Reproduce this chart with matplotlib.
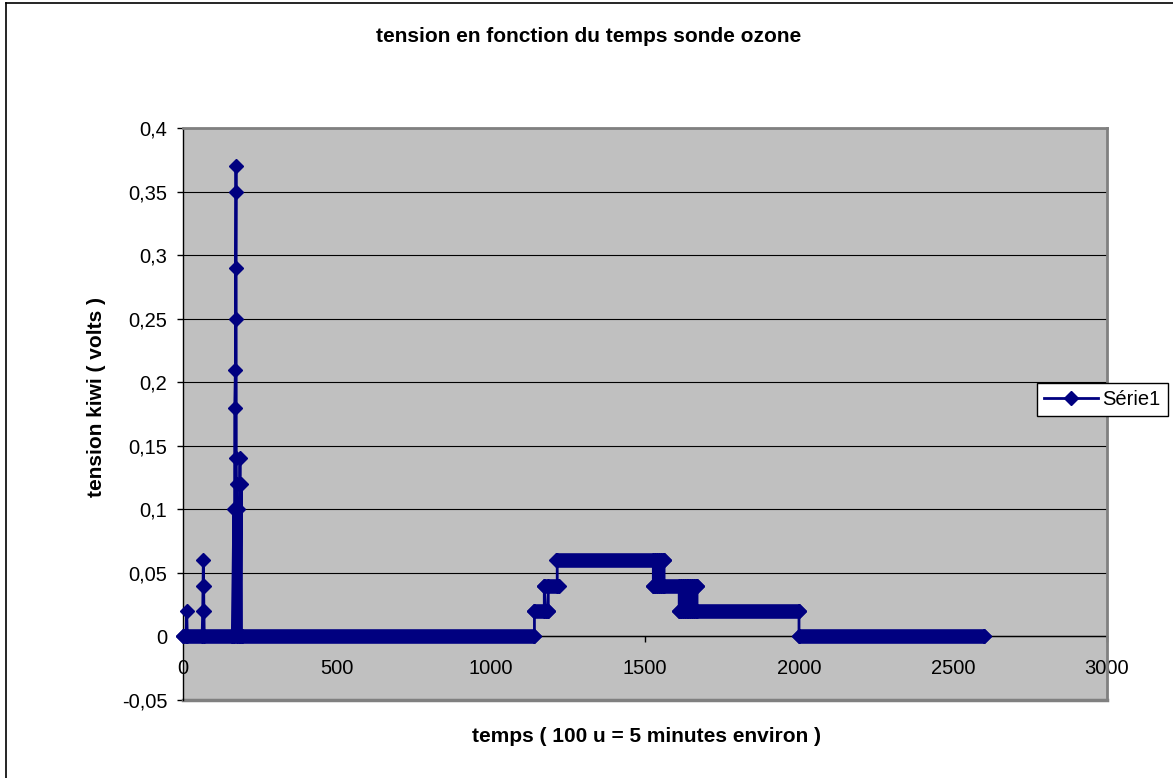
import matplotlib
matplotlib.use('Agg')
import matplotlib.pyplot as plt
from matplotlib.lines import Line2D

plt.rcParams['font.family'] = ['Liberation Sans', 'DejaVu Sans']

NAVY = '#000080'

# flat stretches: many readings at the same level
run_start = [0, 1141, 1173, 1212, 1527, 1611, 2000]
run_end = [1141, 1186, 1222, 1562, 1669, 2000, 2600]
run_level = [0, 0.02, 0.04, 0.06, 0.04, 0.02, 0]

# readings in time order (temps, tension)
# start and the small bumps
t_start = [0, 10, 12, 14, 62, 64, 65, 66, 67, 68, 69]
v_start = [0, 0, 0.02, 0, 0, 0.02, 0.04, 0.06, 0.04, 0.02, 0]
# the big peak
t_peak = [158, 160, 165, 167, 168, 170, 171, 171, 172, 172, 173, 174, 174,
          176, 180, 182, 185, 186, 189, 190, 192]
v_peak = [0, 0, 0.10, 0, 0.18, 0.21, 0.25, 0.29, 0.35, 0.37, 0.14, 0.10, 0.12,
          0, 0.10, 0, 0.14, 0, 0.12, 0, 0]
# rise of the plateau
t_rise = [1141, 1141, 1173, 1173, 1178, 1186, 1186, 1215, 1215]
v_rise = [0, 0.02, 0.02, 0.04, 0.02, 0.02, 0.04, 0.04, 0.06]
# 0.06 <-> 0.04 flicker
t_fall1 = [1527, 1527, 1533, 1533, 1539, 1539, 1545, 1545, 1551, 1551, 1557,
           1557, 1562, 1562]
v_fall1 = [0.06, 0.04, 0.04, 0.06, 0.06, 0.04, 0.04, 0.06, 0.06, 0.04, 0.04,
           0.06, 0.06, 0.04]
# 0.04 <-> 0.02 flicker
t_fall2 = [1611, 1611, 1617, 1617, 1623, 1623, 1629, 1629, 1635, 1635, 1641,
           1641, 1647, 1647, 1653, 1653, 1659, 1659, 1665, 1665, 1669, 1669]
v_fall2 = [0.04, 0.02, 0.02, 0.04, 0.04, 0.02, 0.02, 0.04, 0.04, 0.02, 0.02,
           0.04, 0.04, 0.02, 0.02, 0.04, 0.04, 0.02, 0.02, 0.04, 0.04, 0.02]
# back to zero
t_end = [2000, 2000, 2600]
v_end = [0.02, 0, 0]

temps = t_start + t_peak + t_rise + t_fall1 + t_fall2 + t_end
tension = v_start + v_peak + v_rise + v_fall1 + v_fall2 + v_end

yticks = [-0.05, 0, 0.05, 0.1, 0.15, 0.2, 0.25, 0.3, 0.35, 0.4]
xticks = [0, 500, 1000, 1500, 2000, 2500, 3000]

W, H = 1173, 778
fig = plt.figure(figsize=(W / 100, H / 100), dpi=100)
ax = fig.add_axes([183 / W, 1 - 700 / H, (1107 - 183) / W, (700 - 128) / H])
ax.set_facecolor('#C0C0C0')

# dense stretches drawn as a thick band, as wide as a marker
for s, e, lev in zip(run_start, run_end, run_level):
    ax.plot([s, e], [lev, lev], color=NAVY, lw=10.5, solid_capstyle='butt',
            zorder=3, clip_on=False)
ax.plot(run_start + run_end, run_level + run_level, 'D', color=NAVY, ms=7,
        zorder=4, clip_on=False)
ax.plot(temps, tension, color=NAVY, lw=2, marker='D', ms=7, zorder=4,
        clip_on=False)

ax.set_xlim(0, 3000)
ax.set_ylim(-0.05, 0.4)
ax.set_xticks(xticks)
ax.set_yticks(yticks)
ax.set_xticklabels([str(v) for v in xticks])
ax.set_yticklabels([('%g' % v).replace('.', ',') for v in yticks])
ax.tick_params(axis='y', direction='out', length=4.3, width=1, pad=7,
               labelsize=14.5, colors='black')
ax.tick_params(axis='x', direction='out', length=4.3, width=1, pad=12,
               labelsize=14.5, colors='black')

ax.yaxis.grid(True, color='black', lw=0.8)
ax.set_axisbelow(True)

ax.spines['bottom'].set_position(('data', 0))
ax.spines['bottom'].set_color('black')
ax.spines['bottom'].set_linewidth(1)
ax.spines['bottom'].set_zorder(2)
ax.spines['left'].set_color('black')
ax.spines['left'].set_linewidth(1)
for side in ['top', 'right']:
    ax.spines[side].set_color('#808080')
    ax.spines[side].set_linewidth(2)
ax.axhline(-0.05, color='#808080', lw=2.5, clip_on=False, zorder=1)

fig.text(589 / W, 1 - 37 / H, 'tension en fonction du temps sonde ozone',
         ha='center', va='center', fontsize=15, fontweight='bold')
fig.text(647 / W, 1 - 737 / H, 'temps ( 100 u = 5 minutes environ )',
         ha='center', va='center', fontsize=15, fontweight='bold')
fig.text(97 / W, 1 - 397 / H, 'tension kiwi ( volts )', rotation=90,
         ha='center', va='center', fontsize=15, fontweight='bold')

handle = Line2D([], [], color=NAVY, lw=2, marker='D', ms=7)
leg = ax.legend([handle], ['Série1'], loc='upper left',
                bbox_to_anchor=(1037 / W, 1 - 383 / H),
                bbox_transform=fig.transFigure, borderaxespad=0,
                fancybox=False, edgecolor='black', framealpha=1,
                fontsize=14.5, handlelength=2.7, handletextpad=0.2,
                borderpad=0.35)
leg.get_frame().set_linewidth(1)

# chart frame (only left and top edges are inside the picture)
fig.add_artist(Line2D([6 / W, 6 / W], [0, 1 - 3 / H], transform=fig.transFigure,
                      color='black', lw=1.2))
fig.add_artist(Line2D([6 / W, 1], [1 - 3 / H, 1 - 3 / H],
                      transform=fig.transFigure, color='black', lw=1.2))

fig.savefig('out.png', dpi=100)
